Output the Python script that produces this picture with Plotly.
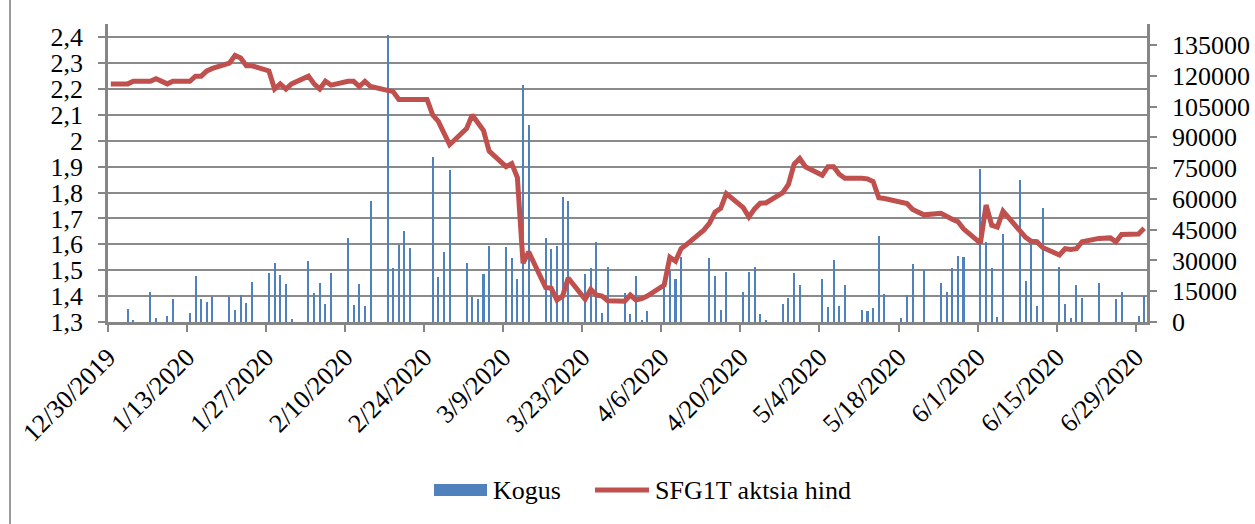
import pandas as pd
import plotly.graph_objects as go

# Trading-day calendar (weekdays 30 Dec 2019 .. 30 Jun 2020)
dates = pd.bdate_range("2019-12-30", "2020-06-30")

# SFG1T share price (left axis), one value per weekday, week by week
price = [
    2.22, 2.22, 2.22, 2.22, 2.23,
    2.23, 2.24, 2.23, 2.22, 2.23,
    2.23, 2.25, 2.25, 2.27, 2.28,
    2.30, 2.33, 2.32, 2.29, 2.29,
    2.27, 2.20, 2.22, 2.20, 2.22,
    2.25, 2.22, 2.20, 2.23, 2.215,
    2.23, 2.23, 2.21, 2.23, 2.21,
    2.195, 2.19, 2.16, 2.16, 2.16,
    2.16, 2.10, 2.075, 2.03, 1.985,
    2.047, 2.10, 2.07, 2.04, 1.96,
    1.90, 1.912, 1.858, 1.527, 1.571,
    1.433, 1.43, 1.385, 1.40, 1.47,
    1.388, 1.426, 1.404, 1.40, 1.382,
    1.38, 1.404, 1.385, 1.39, 1.40,
    1.443, 1.55, 1.535, 1.584, 1.60,
    1.655, 1.681, 1.724, 1.739, 1.796,
    1.742, 1.706, 1.737, 1.759, 1.76,
    1.80, 1.832, 1.909, 1.932, 1.90,
    1.867, 1.90, 1.90, 1.871, 1.855,
    1.855, 1.853, 1.843, 1.78, 1.777,
    1.762, 1.758, 1.735, 1.724, 1.714,
    1.72, 1.707, 1.697, 1.688, 1.66,
    1.605, 1.752, 1.674, 1.667, 1.728,
    1.647, 1.627, 1.612, 1.61, 1.588,
    1.559, 1.583, 1.58, 1.583, 1.61,
    1.623, 1.625, 1.625, 1.61, 1.638,
    1.64, 1.662,
]

# Traded volume "Kogus" (right axis)
volume = [
    0, 0, 0, 6170, 1000,
    14770, 2100, 0, 2900, 11040,
    4220, 22400, 11040, 9900, 12000,
    12340, 5840, 13150, 9090, 19300,
    23700, 28570, 22900, 18340, 1300,
    29550, 13960, 18830, 8600, 23700,
    40900, 8280, 18340, 7800, 59100,
    139800, 26140, 37500, 44470, 35890,
    0, 80500, 21760, 34240, 74020,
    28570, 12340, 11360, 23380, 37170,
    36690, 31010, 20940, 115400, 95940,
    41060, 35550, 37170, 60710, 58930,
    23210, 26140, 38800, 4540, 26620,
    13960, 3730, 22400, 970, 5360,
    17200, 25000, 20780, 31810, 0,
    0, 31300, 22560, 5840, 24190,
    14770, 24510, 26790, 3900, 970,
    8600, 11850, 23700, 18020, 0,
    20780, 7460, 30200, 7790, 17860,
    5840, 5360, 6980, 42040, 13640,
    1790, 12980, 28080, 0, 25320,
    19150, 14450, 26140, 32140, 31810,
    74600, 38800, 26460, 2270, 42860,
    69150, 20130, 38310, 7790, 55360,
    26950, 8770, 1790, 17860, 11850,
    18830, 0, 0, 11360, 14450,
    2920, 12820,
]

series_names = ["Kogus", "SFG1T aktsia hind"]
price_ticks = [1.3, 1.4, 1.5, 1.6, 1.7, 1.8, 1.9, 2.0, 2.1, 2.2, 2.3, 2.4]
price_labels = ["1,3", "1,4", "1,5", "1,6", "1,7", "1,8", "1,9", "2", "2,1", "2,2", "2,3", "2,4"]
volume_ticks = [0, 15000, 30000, 45000, 60000, 75000, 90000, 105000, 120000, 135000]
volume_labels = [str(v) for v in volume_ticks]

DAY = 86400000
FONT = "Liberation Serif, Times New Roman, serif"
GRID = "#8a8a8a"
AXIS = "#868686"
BLUE = "#4F81BD"
RED = "#C0504D"

# plot-area geometry in pixels (for placing the hand-drawn legend)
L, R, T, B = 108, 1147, 24, 322


def px(xp):
    return (xp - L) / (R - L)


def py(yp):
    return (B - yp) / (B - T)


fig = go.Figure()
fig.add_trace(go.Bar(
    x=dates, y=volume, name=series_names[0], yaxis="y",
    xperiod=DAY, xperiodalignment="middle",
    width=0.36 * DAY,
    marker=dict(color=BLUE, line=dict(width=0)),
))
fig.add_trace(go.Scatter(
    x=dates, y=price, name=series_names[1], yaxis="y2",
    xperiod=DAY, xperiodalignment="middle",
    mode="lines", line=dict(color=RED, width=5),
))

legend_y = 490
shapes = [
    # outer chart border (left edge visible)
    dict(type="line", xref="paper", yref="paper",
         x0=px(10), x1=px(10), y0=py(530), y1=py(-5),
         line=dict(color="#9a9a9a", width=2)),
    # legend: volume swatch
    dict(type="rect", xref="paper", yref="paper",
         x0=px(434), x1=px(487), y0=py(496), y1=py(484),
         fillcolor=BLUE, line=dict(width=0)),
    # legend: price line swatch
    dict(type="line", xref="paper", yref="paper",
         x0=px(595), x1=px(649), y0=py(legend_y), y1=py(legend_y),
         line=dict(color=RED, width=5)),
]
annotations = [
    dict(text=series_names[0], xref="paper", yref="paper", x=px(491), y=py(legend_y),
         xanchor="left", yanchor="middle", showarrow=False,
         font=dict(family=FONT, size=26, color="black")),
    dict(text=series_names[1], xref="paper", yref="paper", x=px(653), y=py(legend_y),
         xanchor="left", yanchor="middle", showarrow=False,
         font=dict(family=FONT, size=26, color="black")),
]

fig.update_layout(
    width=1255, height=524,
    margin=dict(l=L, r=1255 - R, t=T, b=524 - B),
    paper_bgcolor="white", plot_bgcolor="white",
    font=dict(family=FONT, size=26, color="black"),
    showlegend=False,
    bargap=0,
    xaxis=dict(
        type="date", range=["2019-12-30", "2020-07-01"],
        tick0="2019-12-30", dtick=14 * DAY, tickformat="%-m/%-d/%Y",
        tickangle=-45, ticks="outside", ticklen=7, tickwidth=2, tickcolor=AXIS,
        showline=True, linecolor=AXIS, linewidth=2.5, showgrid=False,
        tickfont=dict(family=FONT, size=26), automargin=False,
    ),
    yaxis=dict(
        side="right", range=[0, 145200], tickvals=volume_ticks, ticktext=volume_labels,
        ticks="outside", ticklen=7, tickwidth=2, tickcolor=AXIS,
        showline=True, linecolor=AXIS, linewidth=2.5, showgrid=False, zeroline=False,
        tickfont=dict(family=FONT, size=26), ticklabelstandoff=10, automargin=False,
    ),
    yaxis2=dict(
        overlaying="y", side="left", range=[1.3, 2.4514],
        tickvals=price_ticks, ticktext=price_labels,
        ticks="outside", ticklen=7, tickwidth=2, tickcolor=AXIS,
        showline=True, linecolor=AXIS, linewidth=2.5,
        showgrid=True, gridcolor=GRID, gridwidth=1.8, zeroline=False,
        tickfont=dict(family=FONT, size=26), ticklabelstandoff=10, automargin=False,
    ),
    shapes=shapes,
    annotations=annotations,
)

fig.write_html("out.html", config={"displayModeBar": False},
               post_script="document.body.style.margin='0';")
